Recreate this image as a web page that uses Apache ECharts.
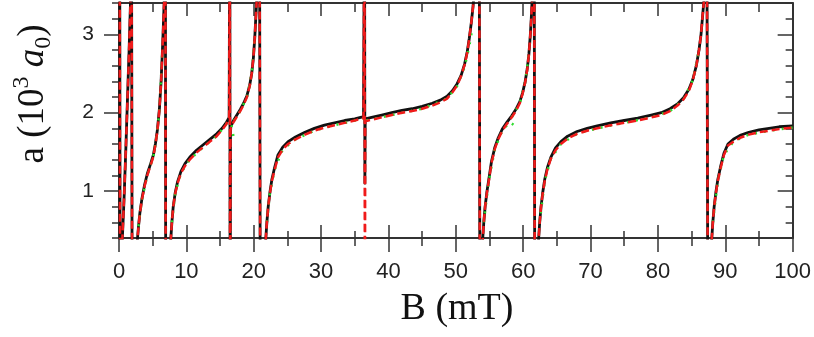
<!DOCTYPE html>
<html><head><meta charset="utf-8">
<script src="https://cdn.jsdelivr.net/npm/echarts@6/dist/echarts.min.js"></script>
<style>html,body{margin:0;padding:0;background:#fff}#c{width:814px;height:337px}</style>
</head><body><div id="c"></div>
<script>
// Magnetic field B (mT) and scattering length a (10^3 a0)
const blackB = [0.1,0.18,0.5,0.75,1.0,1.25,1.5,1.72,1.85,1.98,
2.6,2.75,2.9,3.1,3.4,3.8,4.2,4.7,5.1,5.4,5.7,6.0,6.25,6.45,6.6,6.72,6.88,6.95,
7.55,7.7,7.85,8.05,8.35,8.7,9.2,9.8,10.5,11.5,12.5,13.5,14.5,15.3,15.9,16.35,16.45,16.5,16.55,
16.6,17.0,17.5,18.0,18.5,19.0,19.4,19.7,19.95,20.15,20.3,20.45,20.85,21.0,
21.65,21.8,21.95,22.15,22.4,22.7,23.1,23.6,24.3,25.1,26.2,27.6,29.0,30.5,32.0,33.5,35.0,36.3,36.45,36.5,36.55,
37.5,39,40.5,42,43.5,45,46.5,47.7,48.7,49.5,50.2,50.8,51.3,51.7,52.0,52.3,52.55,52.7,53.45,53.6,
53.85,54.0,54.15,54.35,54.6,54.9,55.3,55.8,56.3,56.9,57.6,58.3,58.9,59.5,59.9,60.3,60.6,60.85,61.05,61.2,61.33,61.6,61.75,
62.15,62.3,62.45,62.65,62.9,63.2,63.6,64.1,64.8,65.6,66.6,68,69.5,71,73,75,77,79,80.5,81.8,82.9,83.8,84.6,85.2,85.7,86.1,86.4,86.65,86.85,87.25,87.45,
87.85,88.0,88.15,88.35,88.6,88.9,89.3,89.8,90.4,91.2,92.2,93.5,95,96.5,98,100];
const blackA = [5,-2,0.4,0.9,1.5,2.15,2.8,3.45,5,-2,
0.2,0.4,0.55,0.72,0.9,1.08,1.22,1.35,1.46,1.6,1.78,2.05,2.4,2.8,3.15,3.45,5,-2,
0.2,0.4,0.6,0.8,0.98,1.12,1.25,1.35,1.43,1.52,1.59,1.66,1.73,1.8,1.87,1.94,5,-2,1.75,
1.82,1.9,1.97,2.04,2.12,2.22,2.35,2.5,2.7,2.95,3.2,3.45,5,-2,
0.2,0.4,0.6,0.8,0.98,1.15,1.3,1.46,1.56,1.63,1.69,1.75,1.8,1.84,1.87,1.9,1.92,1.95,5,1.1,1.92,
1.94,1.97,2.0,2.03,2.05,2.08,2.12,2.16,2.21,2.28,2.37,2.48,2.62,2.78,2.95,3.15,3.35,3.5,6,-2,
0.2,0.4,0.6,0.8,0.98,1.15,1.38,1.56,1.68,1.79,1.88,1.96,2.04,2.14,2.25,2.4,2.56,2.75,2.98,3.2,3.45,6,-2,
0.2,0.4,0.6,0.8,0.98,1.15,1.3,1.43,1.55,1.63,1.7,1.76,1.8,1.83,1.87,1.9,1.93,1.97,2.0,2.05,2.11,2.19,2.3,2.43,2.6,2.8,3.0,3.25,3.45,5,-2,
0.2,0.4,0.6,0.8,0.98,1.15,1.31,1.48,1.6,1.66,1.71,1.75,1.78,1.8,1.82,1.83];

const redB = [0.1,0.18,0.5,0.75,1.0,1.25,1.5,1.72,1.85,1.98,
2.6,2.75,2.9,3.1,3.4,3.8,4.2,4.7,5.1,5.4,5.7,6.0,6.25,6.45,6.6,6.72,6.88,6.95,
7.55,7.7,7.85,8.05,8.35,8.7,9.2,9.8,10.5,11.5,12.5,13.5,14.5,15.3,15.9,16.35,16.45,16.5,16.55,
16.6,17.0,17.5,18.0,18.5,19.0,19.4,19.7,19.95,20.15,20.3,20.45,20.85,21.0,
21.65,21.8,21.95,22.15,22.4,22.7,23.1,23.6,24.3,25.1,26.2,27.6,29.0,30.5,32.0,33.5,35.0,36.3,36.45,36.5,36.55,
37.5,39,40.5,42,43.5,45,46.5,47.7,48.7,49.5,50.2,50.8,51.3,51.7,52.0,52.3,52.55,52.7,53.45,53.6,
53.85,54.0,54.15,54.35,54.6,54.9,55.3,55.8,56.3,56.9,57.6,58.3,58.9,59.5,59.9,60.3,60.6,60.85,61.05,61.2,61.33,61.6,61.75,
62.15,62.3,62.45,62.65,62.9,63.2,63.6,64.1,64.8,65.6,66.6,68,69.5,71,73,75,77,79,80.5,81.8,82.9,83.8,84.6,85.2,85.7,86.1,86.4,86.65,86.85,87.25,87.45,
87.85,88.0,88.15,88.35,88.6,88.9,89.3,89.8,90.4,91.2,92.2,93.5,95,96.5,98,100];
const redA = [5,-2,0.4,0.9,1.5,2.15,2.8,3.45,5,-2,
0.2,0.4,0.55,0.72,0.89,1.06,1.2,1.33,1.44,1.59,1.77,2.04,2.4,2.8,3.15,3.45,5,-2,
0.2,0.4,0.6,0.8,0.97,1.1,1.23,1.32,1.4,1.49,1.56,1.63,1.7,1.78,1.85,1.93,5,-2,1.75,
1.81,1.88,1.95,2.02,2.1,2.2,2.34,2.5,2.7,2.95,3.2,3.45,5,-2,
0.2,0.4,0.6,0.8,0.97,1.13,1.27,1.43,1.53,1.6,1.66,1.72,1.77,1.81,1.84,1.87,1.9,1.93,5,-2,1.89,
1.91,1.94,1.97,2.0,2.02,2.05,2.09,2.13,2.18,2.26,2.35,2.47,2.61,2.77,2.95,3.15,3.35,3.5,6,-2,
0.2,0.4,0.6,0.8,0.97,1.13,1.36,1.54,1.66,1.77,1.86,1.94,2.02,2.12,2.24,2.39,2.55,2.75,2.98,3.2,3.45,6,-2,
0.2,0.4,0.6,0.8,0.97,1.13,1.28,1.41,1.52,1.6,1.67,1.73,1.77,1.8,1.84,1.87,1.9,1.94,1.97,2.02,2.09,2.17,2.28,2.42,2.6,2.8,3.0,3.25,3.45,5,-2,
0.2,0.4,0.6,0.8,0.97,1.13,1.29,1.46,1.58,1.63,1.68,1.72,1.75,1.77,1.79,1.81];

const greenB = [2.9,3.4,4.2,5.1,5.7,6.0,6.45,null,
7.85,8.35,9.2,10.5,12.5,14.5,15.9,16.35,null,16.7,17.0,null,
17.1,18.0,19.0,19.7,20.15,null,
21.95,22.4,23.1,24.3,26.2,29.0,32.0,35.0,36.3,null,
36.7,40.5,45,48.7,50.2,51.3,52.0,52.5,null,
54.15,54.9,55.8,56.9,58.0,58.8,null,58.3,59.5,60.3,60.85,null,
62.45,63.2,64.1,65.6,68,71,75,79,81.8,83.8,85.2,86.1,null,
88.15,88.9,89.8,91.2,93.5,96.5,100];
const greenA = [0.55,0.89,1.2,1.44,1.77,2.04,2.8,null,
0.6,0.97,1.23,1.4,1.56,1.7,1.85,1.92,null,1.84,1.69,null,
1.9,2.02,2.2,2.5,2.95,null,
0.6,0.97,1.27,1.53,1.66,1.77,1.84,1.9,1.92,null,
1.9,1.97,2.05,2.18,2.34,2.58,2.85,3.1,null,
0.6,1.13,1.54,1.77,1.88,1.83,null,1.94,2.12,2.39,2.75,null,
0.6,1.13,1.41,1.6,1.73,1.8,1.87,1.94,2.02,2.17,2.42,2.8,null,
0.6,1.13,1.46,1.63,1.72,1.77,1.81];

const xMajorTicks = [0,10,20,30,40,50,60,70,80,90,100];
const xMinorTicks = [5,15,25,35,45,55,65,75,85,95];
const yMajorTicks = [1,2,3];
const yMinorTicks = [0.4,0.6,0.8,1.2,1.4,1.6,1.8,2.2,2.4,2.6,2.8,3.2,3.4];

const pairs = (bs, as) => bs.map((b, i) => (b === null || as[i] === null) ? ['-', '-'] : [b, as[i]]);

const lineCol = '#333';
function xAx(pos, ticks, inside, len, showLine, labels) {
  return {
    type: 'value', position: pos, min: 0, max: 100,
    axisLine: { show: showLine, onZero: false, lineStyle: { color: lineCol, width: 2 } },
    axisTick: { show: true, customValues: ticks, inside: inside, length: len, lineStyle: { color: lineCol, width: 1.5 } },
    axisLabel: labels ? { show: true, customValues: labels, margin: 23, fontSize: 22, color: '#222', fontFamily: 'Liberation Sans' } : { show: false },
    splitLine: { show: false }
  };
}
function yAx(pos, ticks, inside, len, showLine, labels) {
  return {
    type: 'value', position: pos, min: 0.4, max: 3.4,
    axisLine: { show: showLine, onZero: false, lineStyle: { color: lineCol, width: 2 } },
    axisTick: { show: true, customValues: ticks, inside: inside, length: len, lineStyle: { color: lineCol, width: 1.5 } },
    axisLabel: labels ? { show: true, customValues: labels, margin: 25, fontSize: 21, color: '#222', fontFamily: 'Liberation Sans' } : { show: false },
    splitLine: { show: false }
  };
}

const chart = echarts.init(document.getElementById('c'), null, { renderer: 'canvas' });
chart.setOption({
  animation: false,
  backgroundColor: '#fff',
  grid: { left: 119, right: 21, top: 3, bottom: 99 },
  xAxis: [
    xAx('bottom', xMajorTicks, true, 13, true, xMajorTicks),
    xAx('bottom', xMajorTicks, false, 14, false, null),
    xAx('bottom', xMinorTicks, true, 7, false, null),
    xAx('bottom', xMinorTicks, false, 8, false, null),
    xAx('top', xMajorTicks, true, 13, true, null),
    xAx('top', xMinorTicks, true, 9, false, null)
  ],
  yAxis: [
    yAx('left', yMajorTicks, false, 15, true, yMajorTicks),
    yAx('left', yMinorTicks, false, 7, false, null),
    yAx('right', yMajorTicks, true, 15, true, null),
    yAx('right', yMinorTicks, true, 7, false, null)
  ],
  series: [
    { type: 'line', data: pairs(blackB, blackA), showSymbol: false, symbol: 'none', clip: true, z: 2,
      lineStyle: { color: '#111', width: 2.8, join: 'round' } },
    { type: 'line', data: pairs(greenB, greenA), showSymbol: false, symbol: 'none', clip: true, z: 3, connectNulls: false,
      lineStyle: { color: '#2fdc2f', width: 2.5, type: [2, 7] } },
    { type: 'line', data: pairs(redB, redA), showSymbol: false, symbol: 'none', clip: true, z: 4,
      lineStyle: { color: '#f01a1a', width: 2.5, type: [8, 4] } }
  ],
  graphic: [
    { type: 'text', x: 457, y: 309, style: { text: 'B (mT)', fontFamily: 'Liberation Serif', fontSize: 38, fill: '#111', align: 'center', verticalAlign: 'middle' } },
    { type: 'text', x: 33, y: 94, rotation: Math.PI / 2,
      style: { text: '{n|a (10}{sup|3}{n| }{i|a}{sub|0}{n|)}', align: 'center', verticalAlign: 'middle', fill: '#111',
        rich: {
          n: { fontFamily: 'Liberation Serif', fontSize: 37, lineHeight: 46, fill: '#111', verticalAlign: 'middle' },
          i: { fontFamily: 'Liberation Serif', fontStyle: 'italic', fontSize: 37, lineHeight: 46, fill: '#111', verticalAlign: 'middle' },
          sup: { fontFamily: 'Liberation Serif', fontSize: 24, lineHeight: 24, fill: '#111', verticalAlign: 'top' },
          sub: { fontFamily: 'Liberation Serif', fontSize: 24, lineHeight: 24, fill: '#111', verticalAlign: 'bottom' }
        } } }
  ]
});
</script></body></html>
